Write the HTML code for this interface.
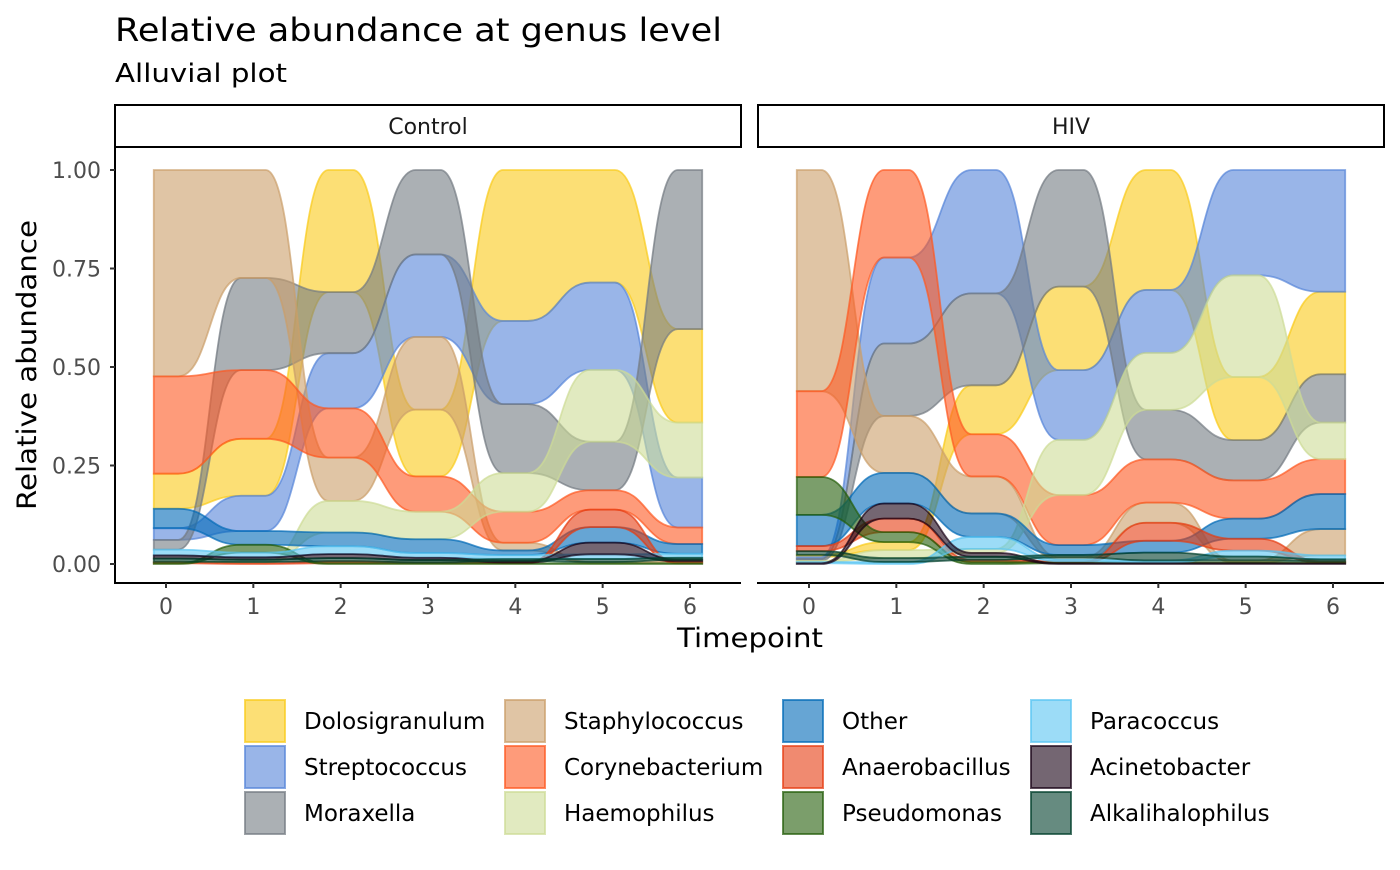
<!DOCTYPE html>
<html><head><meta charset="utf-8"><style>
body{margin:0;background:#fff;}
svg text{font-family:"DejaVu Sans","Liberation Sans",sans-serif;}
</style></head><body>
<svg id="chart" xmlns="http://www.w3.org/2000/svg" width="1400" height="865" viewBox="0 0 1400 865">
<rect width="1400" height="865" fill="#fff"/>
<text x="115" y="41" font-size="32" textLength="607" lengthAdjust="spacingAndGlyphs">Relative abundance at genus level</text>
<text x="115" y="82" font-size="26" textLength="172" lengthAdjust="spacingAndGlyphs">Alluvial plot</text>
<g id="panels"></g>
<text x="750" y="647" font-size="27" text-anchor="middle" textLength="146" lengthAdjust="spacingAndGlyphs">Timepoint</text>
<text transform="translate(36,365) rotate(-90)" font-size="27" text-anchor="middle" textLength="290" lengthAdjust="spacingAndGlyphs">Relative abundance</text>
<g id="legend"></g>
</svg>
<script>
const genera = ["Dolosigranulum","Streptococcus","Moraxella","Staphylococcus","Corynebacterium","Haemophilus","Other","Anaerobacillus","Pseudomonas","Paracoccus","Acinetobacter","Alkalihalophilus"];
const colors = ["#FACA19","#5584D9","#737B82","#CB9E69","#FD5821","#CDDC96","#0069B7","#E63C11","#235D08","#5AC5F2","#170014","#003E2B"];
const timepoints = [0,1,2,3,4,5,6];
const yTicks = [0,0.25,0.5,0.75,1];
const yTickLabels = ["0.00","0.25","0.50","0.75","1.00"];
const panelNames = ["Control","HIV"];
const controlDolosigranulum = [0.09,0.145,0.31,0.17,0.39,0.29,0.238];
const controlStreptococcus = [0.03,0.09,0.14,0.21,0.215,0.225,0.127];
const controlMoraxella = [0.025,0.235,0.155,0.215,0.178,0.125,0.405];
const controlStaphylococcus = [0.53,0.275,0.11,0.185,0.02,0.003,0.003];
const controlCorynebacterium = [0.25,0.175,0.125,0.09,0.08,0.05,0.042];
const controlHaemophilus = [0.002,0.003,0.08,0.07,0.1,0.185,0.14];
const controlOther = [0.05,0.035,0.035,0.035,0.012,0.04,0.025];
const controlAnaerobacillus = [0.002,0.002,0.005,0.002,0.002,0.045,0.002];
const controlPseudomonas = [0.002,0.02,0.002,0.002,0.002,0.002,0.002];
const controlParacoccus = [0.015,0.012,0.02,0.012,0.01,0.012,0.01];
const controlAcinetobacter = [0.008,0.006,0.01,0.006,0.004,0.03,0.004];
const controlAlkalihalophilus = [0.008,0.006,0.008,0.006,0.005,0.008,0.005];
const hivDolosigranulum = [0.005,0.02,0.123,0.212,0.305,0.16,0.21];
const hivStreptococcus = [0.005,0.216,0.31,0.177,0.16,0.267,0.31];
const hivMoraxella = [0.005,0.182,0.231,0.296,0.126,0.102,0.123];
const hivStaphylococcus = [0.567,0.143,0.093,0.005,0.051,0.005,0.067];
const hivCorynebacterium = [0.22,0.22,0.106,0.127,0.11,0.097,0.089];
const hivHaemophilus = [0.003,0.02,0.01,0.14,0.145,0.258,0.093];
const hivOther = [0.08,0.077,0.059,0.025,0.03,0.051,0.089];
const hivAnaerobacillus = [0.013,0.034,0.005,0.003,0.046,0.03,0.003];
const hivPseudomonas = [0.097,0.025,0.005,0.002,0.002,0.002,0.002];
const hivParacoccus = [0.003,0.005,0.03,0.005,0.005,0.015,0.01];
const hivAcinetobacter = [0.002,0.038,0.01,0.002,0.002,0.002,0.002];
const hivAlkalihalophilus = [0.01,0.01,0.008,0.006,0.02,0.01,0.005];

const panelData = [
 [controlDolosigranulum,controlStreptococcus,controlMoraxella,controlStaphylococcus,controlCorynebacterium,controlHaemophilus,controlOther,controlAnaerobacillus,controlPseudomonas,controlParacoccus,controlAcinetobacter,controlAlkalihalophilus],
 [hivDolosigranulum,hivStreptococcus,hivMoraxella,hivStaphylococcus,hivCorynebacterium,hivHaemophilus,hivOther,hivAnaerobacillus,hivPseudomonas,hivParacoccus,hivAcinetobacter,hivAlkalihalophilus]
];
const NS="http://www.w3.org/2000/svg";
function mk(tag,attrs,parent){const e=document.createElementNS(NS,tag);for(const k in attrs)e.setAttribute(k,attrs[k]);parent.appendChild(e);return e;}
const panelsG=document.getElementById('panels');
const panelLeft=[115,758], panelW=626, plotTop=148, plotBottom=583;
const yScale=v=>564-v*394;
const HW=0.14;
panelData.forEach((series,p)=>{
  const x0=panelLeft[p];
  const xScale=t=>x0+51+t*87.33;
  const g=mk('g',{},panelsG);
  
  
  const strip=mk('rect',{x:x0,y:105,width:panelW,height:42,fill:'#fff',stroke:'#000','stroke-width':2},g);
  
  
  const st=mk('text',{x:x0+panelW/2,y:134,'font-size':22,'text-anchor':'middle',fill:'#1a1a1a'},g);
  st.textContent=panelNames[p];
  
  
  const tops=[],bots=[];
  timepoints.forEach((t,ti)=>{
    const vals=series.map(s=>s[ti]);
    const total=vals.reduce((a,b)=>a+b,0);
    const idx=vals.map((v,i)=>i).sort((a,b)=>vals[b]-vals[a]);
    let cur=1;
    tops[ti]=[];bots[ti]=[];
    idx.forEach(i=>{tops[ti][i]=cur;cur-=vals[i]/total;bots[ti][i]=cur;});
  });
  genera.forEach((_,gi)=>{
    let d='';
    timepoints.forEach((t,ti)=>{
      const xa=xScale(t-HW), xb=xScale(t+HW), y=yScale(tops[ti][gi]);
      if(ti===0) d+=`M${xa},${y}`;
      else{const px=xScale(timepoints[ti-1]+HW), py=yScale(tops[ti-1][gi]);const m=(xa-px)*0.5;d+=` C${px+m},${py} ${xa-m},${y} ${xa},${y}`;}
      d+=` L${xb},${y}`;
    });
    for(let ti=timepoints.length-1;ti>=0;ti--){
      const t=timepoints[ti];
      const xa=xScale(t-HW), xb=xScale(t+HW), y=yScale(bots[ti][gi]);
      if(ti===timepoints.length-1) d+=` L${xb},${y}`;
      else{const nx=xScale(timepoints[ti+1]-HW), ny=yScale(bots[ti+1][gi]);const m=(nx-xb)*0.5;d+=` C${nx-m},${ny} ${xb+m},${y} ${xb},${y}`;}
      d+=` L${xa},${y}`;
    }
    d+='Z';
    const path=mk('path',{d:d,fill:colors[gi],'fill-opacity':0.6,stroke:colors[gi],'stroke-opacity':0.7,'stroke-width':1.8},g);
    
    
  });
  const xa=mk('line',{x1:x0-1,x2:x0+panelW,y1:plotBottom,y2:plotBottom,stroke:'#000','stroke-width':2},g);
  
  
  timepoints.forEach(t=>{
    const x=xScale(t);
    mk('line',{x1:x,x2:x,y1:plotBottom,y2:plotBottom+5,stroke:'#333','stroke-width':2},g);
    const tl=mk('text',{x:x,y:614,'font-size':22,'text-anchor':'middle',fill:'#4d4d4d'},g);
    tl.textContent=t;
    
    
  });
  if(p===0){
    const ya=mk('line',{x1:x0,x2:x0,y1:plotTop,y2:plotBottom+1,stroke:'#000','stroke-width':2},g);
    
    
    yTicks.forEach((v,i)=>{
      const y=yScale(v);
      mk('line',{x1:x0-5,x2:x0,y1:y,y2:y,stroke:'#333','stroke-width':2},g);
      const tl=mk('text',{x:x0-14,y:y+8,'font-size':22,'text-anchor':'end',fill:'#4d4d4d'},g);
      tl.textContent=yTickLabels[i];
      
      
    });
  }
});
const lg=document.getElementById('legend');
const colKeyX=[244,504,782,1030], rowY=[699,745,791];
genera.forEach((name,i)=>{
  const c=Math.floor(i/3), r=i%3;
  const item=mk('g',{},lg);
  
  
  mk('rect',{x:colKeyX[c]+1,y:rowY[r]+1,width:40,height:42,fill:colors[i],'fill-opacity':0.6,stroke:colors[i],'stroke-opacity':0.7,'stroke-width':2},item);
  const t=mk('text',{x:colKeyX[c]+60,y:rowY[r]+30,'font-size':23,fill:'#000'},item);
  t.textContent=name;
});
</script>
</body></html>
